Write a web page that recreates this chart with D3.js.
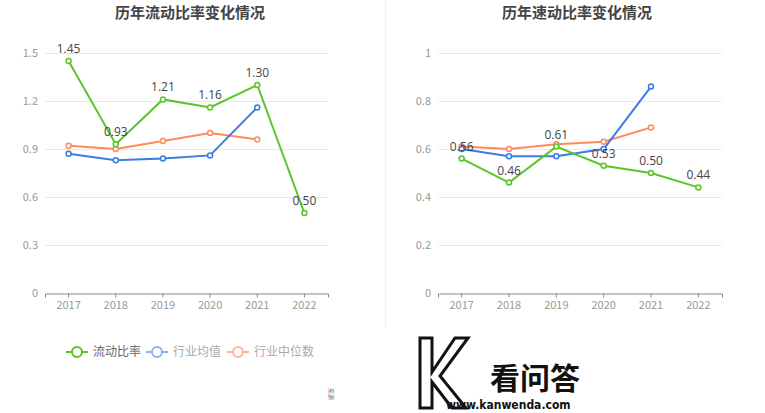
<!DOCTYPE html>
<html>
<head>
<meta charset="utf-8">
<script src="https://cdn.jsdelivr.net/npm/d3@7"></script>
<style>
  body { margin: 0; background: #fff; }
  svg { display: block; font-family: "Noto Sans CJK SC", "Noto Sans", sans-serif; }
</style>
</head>
<body>
<div id="chart"></div>
<script>
const years = ["2017", "2018", "2019", "2020", "2021", "2022"];

// 流动比率 chart
const currentRatio = [1.45, 0.93, 1.21, 1.16, 1.30, 0.50];
const currentIndustryMean = [0.87, 0.83, 0.84, 0.86, 1.16];
const currentIndustryMedian = [0.92, 0.90, 0.95, 1.00, 0.96];
const currentTicks = [0, 0.3, 0.6, 0.9, 1.2, 1.5];

// 速动比率 chart
const quickRatio = [0.56, 0.46, 0.61, 0.53, 0.50, 0.44];
const quickIndustryMean = [0.60, 0.57, 0.57, 0.60, 0.86];
const quickIndustryMedian = [0.61, 0.60, 0.62, 0.63, 0.69];
const quickTicks = [0, 0.2, 0.4, 0.6, 0.8, 1];

const legendNames = ["流动比率", "行业均值", "行业中位数"];
const colors = ["#58c626", "#3b7be6", "#ff8a5b"];
const legendColors = ["#58c626", "#8fb0f0", "#ffb49a"];

const width = 765, height = 413;
const svg = d3.select("#chart").append("svg")
    .attr("width", width)
    .attr("height", height);

// divider between the two panels
svg.append("line")
    .attr("x1", 385.5).attr("x2", 385.5)
    .attr("y1", 0).attr("y2", 328)
    .attr("stroke", "#eeeeee");

function drawPanel(opts) {
  const g = svg.append("g");
  const x = d3.scaleBand().domain(years).range([opts.left, opts.right]);
  const y = d3.scaleLinear().domain([0, opts.max]).range([293, 53]);

  g.append("text")
      .attr("x", opts.titleX).attr("y", 18)
      .attr("text-anchor", "middle")
      .attr("font-size", 15).attr("font-weight", "bold")
      .attr("fill", "#444")
      .text(opts.title);

  // grid lines
  g.append("g").selectAll("line")
    .data(opts.ticks.filter(t => t > 0))
    .join("line")
      .attr("x1", opts.left).attr("x2", opts.right)
      .attr("y1", d => Math.round(y(d)) + 0.5)
      .attr("y2", d => Math.round(y(d)) + 0.5)
      .attr("stroke", "#e3e8f3");

  // y labels
  g.append("g").selectAll("text")
    .data(opts.ticks)
    .join("text")
      .attr("x", opts.left - 7)
      .attr("y", d => y(d))
      .attr("dy", "0.35em")
      .attr("text-anchor", "end")
      .attr("font-size", 11)
      .attr("fill", "#999")
      .text(d => d);

  // x axis
  const xAxis = g.append("g")
      .attr("transform", `translate(0,${Math.round(y(0)) + 0.5})`)
      .call(d3.axisBottom(x).tickSize(4).tickPadding(4));
  xAxis.select(".domain").attr("stroke", "#8a8a8a");
  xAxis.selectAll(".tick line").attr("stroke", "#8a8a8a");
  xAxis.selectAll(".tick text")
      .attr("font-size", 11)
      .attr("fill", "#999")
      .attr("font-family", "\"Noto Sans CJK SC\", sans-serif");

  const cx = (d, i) => x(years[i]) + x.bandwidth() / 2;
  const line = d3.line().x(cx).y(d => y(d));

  // draw median first, then mean, then main series on top
  [2, 1, 0].forEach(k => {
    const values = opts.series[k];
    g.append("path")
        .datum(values)
        .attr("d", line)
        .attr("fill", "none")
        .attr("stroke", colors[k])
        .attr("stroke-width", 2);
    g.append("g").selectAll("circle")
      .data(values)
      .join("circle")
        .attr("cx", cx)
        .attr("cy", d => y(d))
        .attr("r", 2.5)
        .attr("fill", "#fff")
        .attr("stroke", colors[k])
        .attr("stroke-width", 1.5);
  });

  // value labels on main series
  g.append("g").selectAll("text")
    .data(opts.series[0])
    .join("text")
      .attr("x", cx)
      .attr("y", d => y(d) - 8)
      .attr("text-anchor", "middle")
      .attr("font-size", 12)
      .attr("fill", "#444")
      .attr("font-family", "\"Open Sans\", \"Noto Sans\", sans-serif")
      .text(d => d.toFixed(2));
}

drawPanel({
  title: "历年流动比率变化情况", titleX: 190,
  left: 45, right: 328, max: 1.5, ticks: currentTicks,
  series: [currentRatio, currentIndustryMean, currentIndustryMedian]
});

drawPanel({
  title: "历年速动比率变化情况", titleX: 577,
  left: 438, right: 722, max: 1, ticks: quickTicks,
  series: [quickRatio, quickIndustryMean, quickIndustryMedian]
});

// legend
const legend = svg.append("g").selectAll("g")
  .data(legendNames)
  .join("g")
    .attr("transform", (d, i) => `translate(${[66, 146, 227][i]},352)`);
legend.append("line")
    .attr("x1", 0).attr("x2", 22)
    .attr("stroke", (d, i) => legendColors[i])
    .attr("stroke-width", 2);
legend.append("circle")
    .attr("cx", 11).attr("r", 5)
    .attr("fill", "#fff")
    .attr("stroke", (d, i) => legendColors[i])
    .attr("stroke-width", 2);
legend.append("text")
    .attr("x", 27).attr("dy", "0.35em")
    .attr("font-size", 12)
    .attr("fill", (d, i) => i === 0 ? "#666" : "#aaa")
    .text(d => d);

// small vertical note
svg.append("text")
    .attr("transform", "translate(329,388) rotate(90)")
    .attr("font-size", 6)
    .attr("fill", "#777")
    .text("来源");

// watermark
const wm = svg.append("g");
wm.append("path")
    .attr("d", "M420,338 L432,338 L432,372 L455,338 L468,338 L440,376 L466,408 L452,408 L432,382 L432,408 L420,408 Z")
    .attr("fill", "none")
    .attr("stroke", "#111")
    .attr("stroke-width", 3);
wm.append("text")
    .attr("x", 490).attr("y", 389)
    .attr("font-size", 30)
    .attr("font-weight", "bold")
    .attr("fill", "#111")
    .text("看问答");
wm.append("text")
    .attr("x", 446).attr("y", 409)
    .attr("font-size", 12)
    .attr("font-weight", "bold")
    .attr("font-family", "\"Liberation Sans Narrow\", \"DejaVu Sans Condensed\", sans-serif")
    .attr("fill", "#111")
    .text("www.kanwenda.com");
</script>
</body>
</html>
